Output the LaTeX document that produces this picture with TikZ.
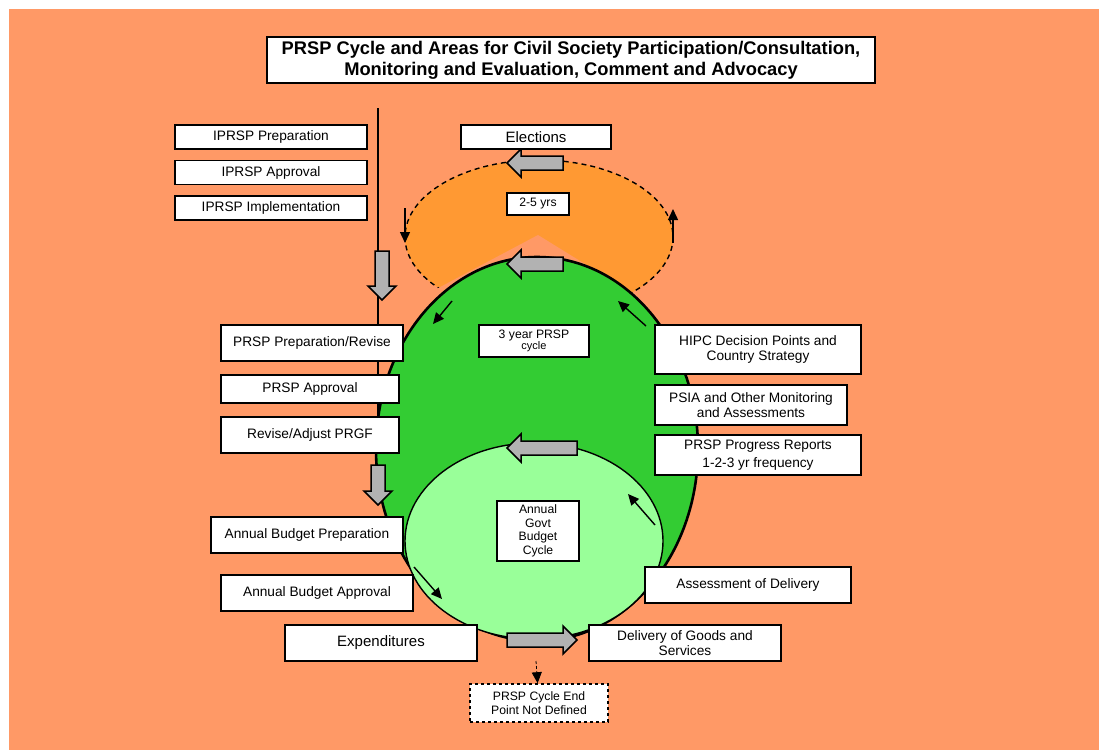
\documentclass[tikz,border=0pt]{standalone}
\usepackage{fontspec}
\setmainfont{Liberation Sans}
\usetikzlibrary{arrows.meta, positioning}
\definecolor{bgorange}{HTML}{FF9966}
\definecolor{elorange}{HTML}{FF9933}
\definecolor{prspgreen}{HTML}{33CC33}
\definecolor{budgetgreen}{HTML}{99FF99}
\definecolor{arrowgray}{HTML}{B2B2B2}

\begin{document}
\begin{tikzpicture}[
  x=1pt, y=-1pt,
  box/.style={draw, fill=white, line width=1.6pt, align=center, inner sep=0pt, font=\fontsize{13.7}{15}\selectfont},
  small/.style={box, font=\fontsize{12.2}{13.5}\selectfont},
  big/.style={box, font=\fontsize{15}{17}\selectfont},
  edge/.style={-{Triangle[length=11pt, width=10pt]}, line width=1.4pt},
  pics/blockarrow/.style={code={\draw[fill=arrowgray, line width=1.5pt, line join=miter]
    (0,-7) -- (#1-14,-7) -- (#1-14,-14) -- (#1,0) -- (#1-14,14) -- (#1-14,7) -- (0,7) -- cycle;}}
]
\fill[white] (0,0) rectangle (1099,750);
\useasboundingbox (0,0) rectangle (1099,750);
\fill[bgorange] (9,9) rectangle (1099,750);

\filldraw[fill=elorange, dash pattern=on 5pt off 4pt, line width=1.4pt] (539,237) ellipse [x radius=134, y radius=77];
\fill[bgorange] (538,235) -- (380,319) -- (380,345) -- (700,345) -- (700,335) -- cycle;

\coordinate (linetop) at (378,108);
\coordinate (linebot) at (378,467);
\draw[line width=1.4pt] (linetop) -- (linebot);

\filldraw[fill=prspgreen, line width=2.6pt] (537,449) ellipse [x radius=161, y radius=192];
\filldraw[fill=budgetgreen, line width=1.4pt] (534,541) ellipse [x radius=129, y radius=98];

\pic[rotate=180] at (563,163) {blockarrow=56};
\pic[rotate=180] at (563,264) {blockarrow=56};
\pic[rotate=180] at (577,448) {blockarrow=70};
\pic at (507,640) {blockarrow=70};
\pic[rotate=-90] at (382,251) {blockarrow=49};
\pic[rotate=-90] at (378,465) {blockarrow=40};

\node[box, font=\bfseries\fontsize{18.3}{21}\selectfont, minimum width=608pt, minimum height=46pt] (title) at (571,60)
  {PRSP Cycle and Areas for Civil Society Participation/Consultation,\\Monitoring and Evaluation, Comment and Advocacy};
\node[box, minimum width=192pt, minimum height=24pt] (iprsp1) at (271,137) {IPRSP Preparation};
\node[box, minimum width=192pt, minimum height=24pt, below=10pt of iprsp1] (iprsp2) {IPRSP Approval};
\node[box, minimum width=192pt, minimum height=24pt, below=10pt of iprsp2] (iprsp3) {IPRSP Implementation};
\node[big, minimum width=150pt, minimum height=24pt] (elect) at (536,137) {Elections};
\node[small, minimum width=62pt, minimum height=22pt] (yrs) at (538,204) {2-5 yrs};
\node[box, minimum width=182pt, minimum height=36pt] (prep) at (312,343) {PRSP Preparation/Revise};
\node[box, minimum width=178pt, minimum height=28pt] (appr) at (310,389) {PRSP Approval};
\node[box, minimum width=178pt, minimum height=36pt] (prgf) at (310,435) {Revise/Adjust PRGF};
\node[small, minimum width=110pt, minimum height=32pt] (three) at (534,341) {3 year PRSP\\[-3pt]{\fontsize{11}{12}\selectfont cycle}};
\node[box, minimum width=206pt, minimum height=49pt] (hipc) at (758,349.5) {HIPC Decision Points and\\Country Strategy};
\node[box, minimum width=192pt, minimum height=40pt] (psia) at (751,405) {PSIA and Other Monitoring\\and Assessments};
\node[box, minimum width=206pt, minimum height=40pt] (reports) at (758,455) {PRSP Progress Reports\\[3pt]1-2-3 yr frequency};
\node[small, minimum width=82pt, minimum height=60pt] (govt) at (538,531) {Annual\\Govt\\Budget\\Cycle};
\node[box, minimum width=192pt, minimum height=36pt] (budprep) at (307,535) {Annual Budget Preparation};
\node[box, minimum width=192pt, minimum height=36pt] (budappr) at (317,593) {Annual Budget Approval};
\node[big, minimum width=192pt, minimum height=36pt] (expend) at (381,643) {Expenditures};
\node[box, minimum width=206pt, minimum height=36pt] (assess) at (748,585) {Assessment of Delivery};
\node[box, minimum width=192pt, minimum height=36pt] (deliver) at (685,643) {Delivery of Goods and\\Services};
\node[small, dashed, minimum width=138pt, minimum height=38pt] (endpt) at (539,703) {PRSP Cycle End\\Point Not Defined};

\coordinate (eltop) at (405,208);
\coordinate (elbot) at (405,243);
\coordinate (erbot) at (673,243);
\coordinate (ertop) at (673,209);
\coordinate (gl1) at (452,301);
\coordinate (gl2) at (433,324);
\coordinate (gr1) at (646,326);
\coordinate (gr2) at (618,301);
\coordinate (bl1) at (414,567);
\coordinate (bl2) at (442,599);
\coordinate (br1) at (655,525);
\coordinate (br2) at (628,494);
\coordinate (endtop) at (536,661);
\draw[edge] (eltop) -- (elbot);
\draw[edge] (erbot) -- (ertop);
\draw[edge] (gl1) -- (gl2);
\draw[edge] (gr1) -- (gr2);
\draw[edge] (bl1) -- (bl2);
\draw[edge] (br1) -- (br2);
\draw[edge, line width=0.8pt, dash pattern=on 3pt off 2pt] (endtop) -- (endpt);
\end{tikzpicture}
\end{document}
